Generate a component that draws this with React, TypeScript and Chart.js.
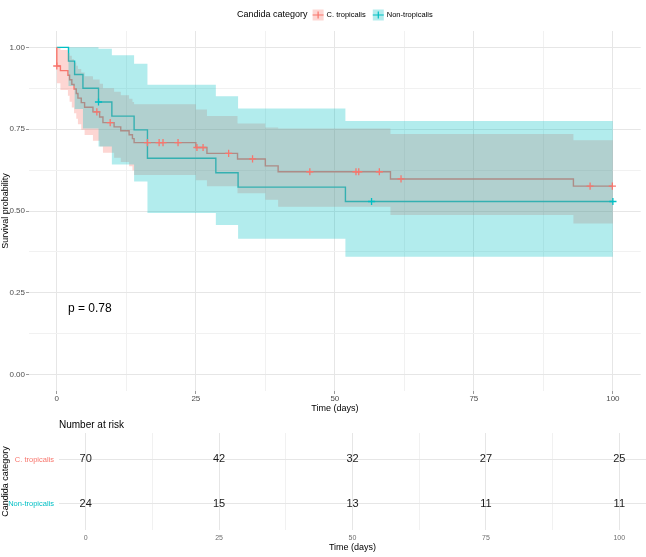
import React, { useEffect, useRef } from "react";
import { Chart, registerables } from "chart.js";

Chart.register(...registerables);

const FONT = "'Liberation Sans', Arial, Helvetica, sans-serif";
const RED = "#F8766D";
const TEAL = "#00BFC4";
const RED_FILL = "rgba(248,118,109,0.3)";
const TEAL_FILL = "rgba(0,191,196,0.3)";
const MAJOR_GRID = "#e6e6e6";
const MINOR_GRID = "#f1f1f1";

const legendTitle = "Candida category";
const groupNames = ["C. tropicalis", "Non-tropicalis"];
const pLabel = "p = 0.78";

// C. tropicalis: step times, survival, confidence limits
const tropTime = [0, 0, 0.65, 2.0, 2.3, 2.7, 3.1, 3.5, 3.8, 4.4, 5.0, 6.5, 7.7, 8.3, 10.3, 11.5, 13.0, 13.6, 13.9, 25.0, 27.0, 32.5, 37.5, 39.8, 60.0, 92.9, 100];
const tropSurv = [1, 0.943, 0.929, 0.915, 0.901, 0.887, 0.873, 0.859, 0.845, 0.831, 0.817, 0.803, 0.787, 0.77, 0.757, 0.745, 0.733, 0.721, 0.709, 0.694, 0.676, 0.659, 0.638, 0.62, 0.598, 0.576, 0.576];
const tropUpper = [1, 0.999, 0.992, 0.983, 0.974, 0.964, 0.954, 0.944, 0.934, 0.923, 0.912, 0.902, 0.889, 0.875, 0.864, 0.854, 0.843, 0.833, 0.826, 0.81, 0.79, 0.767, 0.755, 0.752, 0.735, 0.716, 0.716];
const tropLower = [1, 0.89, 0.87, 0.852, 0.834, 0.816, 0.799, 0.782, 0.765, 0.748, 0.732, 0.715, 0.697, 0.678, 0.663, 0.65, 0.637, 0.624, 0.61, 0.594, 0.576, 0.554, 0.534, 0.513, 0.488, 0.462, 0.462];
const tropCensor = [0, 7.2, 9.6, 16.3, 18.4, 19.1, 21.8, 25.2, 26.3, 30.9, 35.2, 45.5, 53.8, 54.3, 58.0, 61.9, 95.9, 99.9];

// Non-tropicalis
const nonTime = [0, 2.1, 3.2, 4.7, 7.5, 9.9, 13.9, 16.3, 28.6, 32.6, 51.9, 100];
const nonSurv = [1, 0.958, 0.917, 0.875, 0.833, 0.79, 0.748, 0.661, 0.617, 0.573, 0.529, 0.529];
const nonUpper = [1, 1, 1, 1, 0.996, 0.976, 0.95, 0.886, 0.851, 0.813, 0.775, 0.775];
const nonLower = [1, 0.882, 0.812, 0.752, 0.697, 0.642, 0.59, 0.494, 0.457, 0.415, 0.36, 0.36];
const nonCensor = [7.5, 56.6, 100];

const xMajor = [0, 25, 50, 75, 100];
const xMinor = [12.5, 37.5, 62.5, 87.5];
const yMajor = [0, 0.25, 0.5, 0.75, 1];
const yMinor = [0.125, 0.375, 0.625, 0.875];

// Number at risk table
const riskTimes = [0, 25, 50, 75, 100];
const tropRisk = [70, 42, 32, 27, 25];
const nonRisk = [24, 15, 13, 11, 11];
const riskTitle = "Number at risk";

const stepPoints = (times: number[], vals: number[]) => times.map((t, i) => ({ x: t, y: vals[i] }));
const levelAt = (times: number[], vals: number[], t: number) => {
  let v = vals[0];
  for (let i = 0; i < times.length; i++) if (times[i] <= t) v = vals[i];
  return v;
};
const isIn = (v: number, list: number[]) => list.some((m) => Math.abs(m - v) < 1e-9);
const tickList = (a: number[], b: number[]) => [...a, ...b].sort((p, q) => p - q).map((value) => ({ value }));

const kmLegend = {
  id: "kmLegend",
  afterDraw(chart: any) {
    const ctx = chart.ctx as CanvasRenderingContext2D;
    ctx.save();
    const titleFont = `9px ${FONT}`;
    const itemFont = `7.5px ${FONT}`;
    ctx.font = titleFont;
    const tw = ctx.measureText(legendTitle).width;
    ctx.font = itemFont;
    const w = groupNames.map((g) => ctx.measureText(g).width);
    const key = 11;
    const total = tw + 5 + key + 3 + w[0] + 7 + key + 3 + w[1];
    let x = (chart.chartArea.left + chart.chartArea.right) / 2 - total / 2;
    const y = 15;
    ctx.textBaseline = "middle";
    ctx.textAlign = "left";
    ctx.fillStyle = "#000";
    ctx.font = titleFont;
    ctx.fillText(legendTitle, x, y);
    x += tw + 5;
    const colors = [RED, TEAL];
    const fills = [RED_FILL, TEAL_FILL];
    groupNames.forEach((g, i) => {
      ctx.fillStyle = fills[i];
      ctx.fillRect(x, y - key / 2, key, key);
      ctx.strokeStyle = colors[i];
      ctx.lineWidth = 1.2;
      ctx.beginPath();
      ctx.moveTo(x, y);
      ctx.lineTo(x + key, y);
      ctx.moveTo(x + key / 2, y - 3.5);
      ctx.lineTo(x + key / 2, y + 3.5);
      ctx.stroke();
      x += key + 3;
      ctx.fillStyle = "#000";
      ctx.font = itemFont;
      ctx.fillText(g, x, y);
      x += w[i] + 7;
    });
    ctx.restore();
  },
};

const pValueText = {
  id: "pValueText",
  afterDatasetsDraw(chart: any) {
    const ctx = chart.ctx as CanvasRenderingContext2D;
    const xs = chart.scales.x;
    const ys = chart.scales.y;
    ctx.save();
    ctx.font = `12px ${FONT}`;
    ctx.fillStyle = "#000";
    ctx.textAlign = "left";
    ctx.textBaseline = "middle";
    ctx.fillText(pLabel, xs.getPixelForValue(2), ys.getPixelForValue(0.2));
    ctx.restore();
  },
};

const riskText = {
  id: "riskText",
  afterDatasetsDraw(chart: any) {
    const ctx = chart.ctx as CanvasRenderingContext2D;
    const counts = [tropRisk, nonRisk];
    ctx.save();
    ctx.font = `11px ${FONT}`;
    ctx.fillStyle = "#1a1a1a";
    ctx.textAlign = "center";
    ctx.textBaseline = "middle";
    counts.forEach((row, i) => {
      const meta = chart.getDatasetMeta(i);
      meta.data.forEach((pt: any, j: number) => ctx.fillText(String(row[j]), pt.x, pt.y));
    });
    ctx.font = `10px ${FONT}`;
    ctx.textAlign = "left";
    ctx.fillStyle = "#000";
    ctx.fillText(riskTitle, chart.chartArea.left, 7);
    ctx.restore();
  },
};

const gridColor = (majors: number[]) => (c: any) =>
  c.tick && isIn(c.tick.value, majors) ? MAJOR_GRID : MINOR_GRID;
const tickColor = (majors: number[]) => (c: any) =>
  c.tick && isIn(c.tick.value, majors) ? "#9a9a9a" : "rgba(0,0,0,0)";

export default function App() {
  const mainRef = useRef<HTMLCanvasElement>(null);
  const riskRef = useRef<HTMLCanvasElement>(null);

  useEffect(() => {
    document.body.style.margin = "0";
    Chart.defaults.font.family = FONT;

    const lineBase = { pointRadius: 0, fill: false, stepped: "before" as const, tension: 0 };
    const main = new Chart(mainRef.current!, {
      type: "line",
      data: {
        datasets: [
          { ...lineBase, label: groupNames[0], data: stepPoints(tropTime, tropSurv), borderColor: RED, borderWidth: 1.4, order: 5 },
          { ...lineBase, label: groupNames[1], data: stepPoints(nonTime, nonSurv), borderColor: TEAL, borderWidth: 1.4, order: 5 },
          { ...lineBase, label: "tropUpper", data: stepPoints(tropTime, tropUpper), borderWidth: 0, borderColor: "rgba(0,0,0,0)", order: 3 },
          { ...lineBase, label: "tropLower", data: stepPoints(tropTime, tropLower), borderWidth: 0, borderColor: "rgba(0,0,0,0)", fill: "-1", backgroundColor: RED_FILL, order: 3 },
          { ...lineBase, label: "nonUpper", data: stepPoints(nonTime, nonUpper), borderWidth: 0, borderColor: "rgba(0,0,0,0)", order: 2 },
          { ...lineBase, label: "nonLower", data: stepPoints(nonTime, nonLower), borderWidth: 0, borderColor: "rgba(0,0,0,0)", fill: "-1", backgroundColor: TEAL_FILL, order: 2 },
          {
            label: "tropCensor",
            data: tropCensor.map((t) => ({ x: t, y: levelAt(tropTime, tropSurv, t) })),
            showLine: false, pointStyle: "cross", pointRadius: 3.6, pointBorderWidth: 1.3,
            pointBorderColor: RED, borderColor: RED, order: 1,
          },
          {
            label: "nonCensor",
            data: nonCensor.map((t) => ({ x: t, y: levelAt(nonTime, nonSurv, t) })),
            showLine: false, pointStyle: "cross", pointRadius: 3.6, pointBorderWidth: 1.3,
            pointBorderColor: TEAL, borderColor: TEAL, order: 1,
          },
        ],
      },
      options: {
        animation: false,
        responsive: false,
        devicePixelRatio: 1,
        layout: { padding: { top: 31, left: 0, right: 0, bottom: 0 } },
        plugins: { legend: { display: false }, tooltip: { enabled: false } },
        scales: {
          x: {
            type: "linear",
            min: -5,
            max: 105,
            afterBuildTicks: (s: any) => { s.ticks = tickList(xMajor, xMinor); },
            afterFit: (s: any) => { s.height = 27; },
            ticks: {
              autoSkip: false, maxRotation: 0, padding: 0, color: "#4d4d4d", font: { size: 8 },
              callback: (v: any) => (isIn(Number(v), xMajor) ? String(v) : ""),
            },
            grid: { color: gridColor(xMajor), tickColor: tickColor(xMajor), tickLength: 3, lineWidth: 1 },
            border: { display: false },
            title: { display: true, text: "Time (days)", color: "#000", font: { size: 9 }, padding: { top: 0, bottom: 4 } },
          },
          y: {
            type: "linear",
            min: -0.05,
            max: 1.05,
            afterBuildTicks: (s: any) => { s.ticks = tickList(yMajor, yMinor); },
            afterFit: (s: any) => { s.width = 29; },
            ticks: {
              autoSkip: false, padding: 1, color: "#4d4d4d", font: { size: 8 },
              callback: (v: any) => (isIn(Number(v), yMajor) ? Number(v).toFixed(2) : ""),
            },
            grid: { color: gridColor(yMajor), tickColor: tickColor(yMajor), tickLength: 3, lineWidth: 1 },
            border: { display: false },
            title: { display: true, text: "Survival probability", color: "#000", font: { size: 9 }, padding: { top: 0, bottom: 0 } },
          },
        },
      },
      plugins: [kmLegend, pValueText],
    });

    const rowNames = groupNames;
    const risk = new Chart(riskRef.current!, {
      type: "scatter",
      data: {
        datasets: [
          { label: rowNames[0], data: riskTimes.map((t) => ({ x: t, y: 1 })), pointRadius: 0 },
          { label: rowNames[1], data: riskTimes.map((t) => ({ x: t, y: 2 })), pointRadius: 0 },
        ],
      },
      options: {
        animation: false,
        responsive: false,
        devicePixelRatio: 1,
        layout: { padding: { top: 15, left: 0, right: 0, bottom: 0 } },
        plugins: { legend: { display: false }, tooltip: { enabled: false } },
        scales: {
          x: {
            type: "linear",
            min: -5,
            max: 105,
            afterBuildTicks: (s: any) => { s.ticks = tickList(xMajor, xMinor); },
            afterFit: (s: any) => { s.height = 27; },
            ticks: {
              autoSkip: false, maxRotation: 0, padding: 4, color: "#6e6e6e", font: { size: 7 },
              callback: (v: any) => (isIn(Number(v), xMajor) ? String(v) : ""),
            },
            grid: { color: gridColor(xMajor), drawTicks: false, lineWidth: 1 },
            border: { display: false },
            title: { display: true, text: "Time (days)", color: "#000", font: { size: 9 }, padding: { top: 0, bottom: 4 } },
          },
          y: {
            type: "linear",
            min: 0.4,
            max: 2.6,
            reverse: true,
            afterBuildTicks: (s: any) => { s.ticks = [{ value: 1 }, { value: 2 }]; },
            afterFit: (s: any) => { s.width = 59; },
            ticks: {
              autoSkip: false, padding: 5, font: { size: 7.5 },
              color: (c: any) => (c.index === 0 ? RED : TEAL),
              callback: (v: any) => rowNames[Number(v) - 1],
            },
            grid: { color: MAJOR_GRID, drawTicks: false, lineWidth: 1 },
            border: { display: false },
            title: { display: true, text: legendTitle, color: "#000", font: { size: 9 }, padding: { top: 0, bottom: 0 } },
          },
        },
      },
      plugins: [riskText],
    });

    return () => {
      main.destroy();
      risk.destroy();
    };
  }, []);

  return (
    <div style={{ width: 646, height: 557, background: "#fff" }}>
      <canvas ref={mainRef} width={646} height={418} style={{ display: "block", width: 646, height: 418 }} />
      <canvas ref={riskRef} width={646} height={139} style={{ display: "block", width: 646, height: 139 }} />
    </div>
  );
}
